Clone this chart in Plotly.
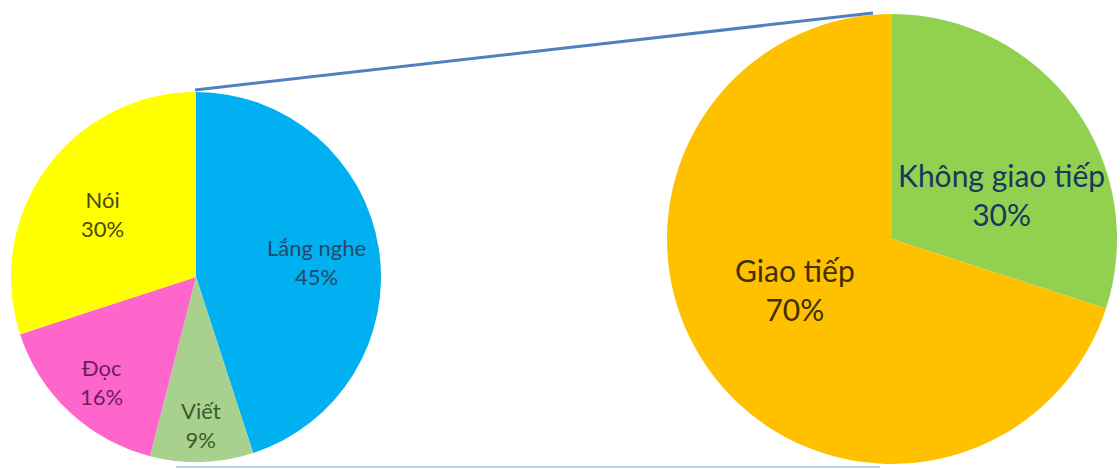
import plotly.graph_objects as go

# Left pie: skills breakdown
skill_labels = ["Lắng nghe", "Viết", "Đọc", "Nói"]
skill_values = [45, 9, 16, 30]
skill_colors = ["#00B0F0", "#A9D18E", "#FF66CC", "#FFFF00"]
skill_text_colors = ["#24486B", "#3B5A2E", "#6B1F5A", "#4A4A0A"]

# Right pie: communication share
comm_labels = ["Không giao tiếp", "Giao tiếp"]
comm_values = [30, 70]
comm_colors = ["#92D050", "#FFC000"]
comm_text_colors = ["#17375E", "#3F3000"]

W, H = 1120, 469
FONT = "Lato"

fig = go.Figure()

# left pie: center (196, 277), radius 185
lc, lr = (196, 277), 185
fig.add_trace(go.Pie(
    labels=skill_labels, values=skill_values, sort=False, direction="clockwise",
    rotation=0, marker=dict(colors=skill_colors, line=dict(width=0)),
    textinfo="none", hoverinfo="label+percent", showlegend=False,
    domain=dict(x=[(lc[0] - lr) / W, (lc[0] + lr) / W],
                y=[(H - lc[1] - lr) / H, (H - lc[1] + lr) / H]),
))

# right pie: center (892, 239), radius 225
rc, rr = (892, 239), 225
fig.add_trace(go.Pie(
    labels=comm_labels, values=comm_values, sort=False, direction="clockwise",
    rotation=0, marker=dict(colors=comm_colors, line=dict(width=0)),
    textinfo="none", hoverinfo="label+percent", showlegend=False,
    domain=dict(x=[(rc[0] - rr) / W, (rc[0] + rr) / W],
                y=[(H - rc[1] - rr) / H, (H - rc[1] + rr) / H]),
))

# label positions (pixel, from top-left)
skill_pos = [(316, 262), (201, 425), (101, 382), (102, 214)]
comm_pos = [(1001, 195), (795, 289)]

annotations = []
for lab, val, col, (px, py) in zip(skill_labels, skill_values, skill_text_colors, skill_pos):
    annotations.append(dict(
        x=px / W, y=1 - py / H, xref="paper", yref="paper", showarrow=False,
        xanchor="center", yanchor="middle",
        text=f"{lab}<br>{val}%", align="center",
        font=dict(family=FONT, size=22, color=col),
    ))
for lab, val, col, (px, py) in zip(comm_labels, comm_values, comm_text_colors, comm_pos):
    annotations.append(dict(
        x=px / W, y=1 - py / H, xref="paper", yref="paper", showarrow=False,
        xanchor="center", yanchor="middle",
        text=f"{lab}<br>{val}%", align="center",
        font=dict(family=FONT, size=30, color=col),
    ))

shapes = [
    dict(type="line", xref="paper", yref="paper",
         x0=195 / W, y0=1 - 90 / H, x1=873 / W, y1=1 - 13 / H,
         line=dict(color="#4F81BD", width=3)),
    dict(type="line", xref="paper", yref="paper",
         x0=176 / W, y0=1 - 467 / H, x1=880 / W, y1=1 - 467 / H,
         line=dict(color="#B4D2EE", width=2)),
]

fig.update_layout(
    width=W, height=H, margin=dict(l=0, r=0, t=0, b=0),
    paper_bgcolor="white", plot_bgcolor="white",
    annotations=annotations, shapes=shapes,
)

fig.write_html("out.html", config={"displayModeBar": False},
               post_script="document.body.style.margin='0';document.body.style.overflow='hidden';")
